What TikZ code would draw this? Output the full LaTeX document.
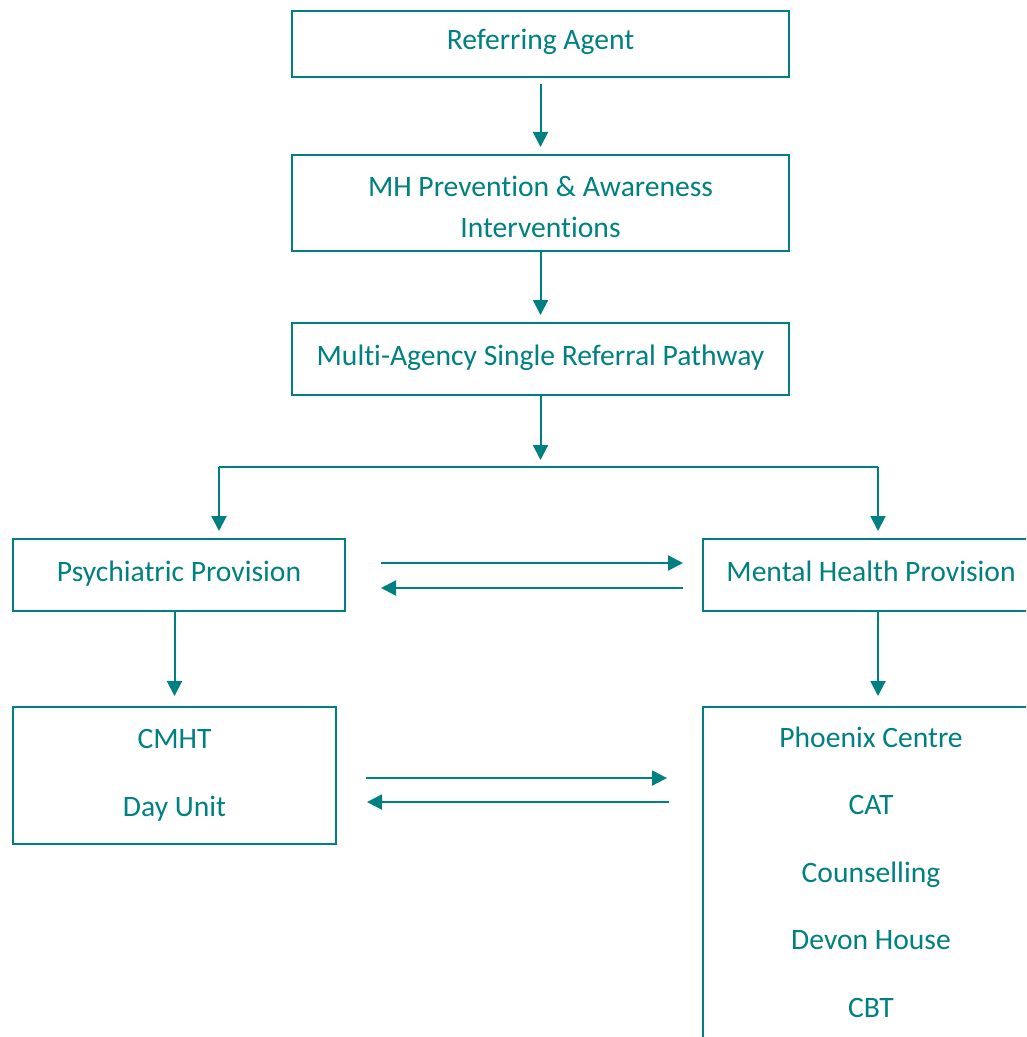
\documentclass[tikz,border=0pt]{standalone}
\usepackage{fontspec}
\setmainfont{Carlito}[Ligatures=CommonOff]
\usetikzlibrary{arrows.meta,calc,positioning}
\definecolor{pathteal}{RGB}{0,128,128}

\begin{document}
\begin{tikzpicture}[x=0.75pt,y=-0.75pt,
    box/.style={draw=pathteal, line width=1.5pt, text=pathteal, inner sep=0pt,
      font=\fontsize{22.2}{26}\selectfont, text height=15pt, text depth=6pt},
    listbox/.style={draw=pathteal, line width=1.5pt, text=pathteal, inner sep=0pt, align=center},
    link/.style={draw=pathteal, line width=1.5pt},
    arr/.style={link, -{Triangle[length=11.25pt,width=11.25pt]}}]
    \useasboundingbox (0,0) rectangle (1026,1037);
    \clip (0,0) rectangle (1026,1037);
    %boxes
    \node[box, minimum width=372.75pt, minimum height=49.5pt] (ref) at (540.5,44) {Referring Agent};
    \node[listbox, minimum width=372.75pt, minimum height=72pt, font=\fontsize{22.2}{30.75}\selectfont] (prev) at (540.5,203) {\rule{0pt}{21pt}MH Prevention \& Awareness\\Interventions};
    \node[box, minimum width=372.75pt, minimum height=54pt] (path) at (540.5,359) {Multi-Agency Single Referral Pathway};
    \node[box, minimum width=249pt, minimum height=54pt] (psych) at (179,575) {Psychiatric Provision};
    \node[box, minimum width=252pt, minimum height=54pt] (mhp) at (871,575) {Mental Health Provision};
    \node[listbox, minimum width=242.25pt, minimum height=102.75pt, font=\fontsize{22.2}{51}\selectfont] (cmht) at (174.5,775.5) {CMHT\\Day Unit};
    \node[listbox, minimum width=252pt, minimum height=253.5pt, font=\fontsize{22.2}{50.6}\selectfont] (serv) at (871,876) {Phoenix Centre\\CAT\\Counselling\\Devon House\\CBT\rule[-6pt]{0pt}{0pt}};
    %verticale pijlen
    \draw[arr, shorten <=4.5pt, shorten >=5.25pt] (ref) -- (prev);
    \draw[arr, shorten >=5.25pt] (prev) -- (path);
    \coordinate (split) at (540.5,467);
    \coordinate (splitl) at (219,467);
    \coordinate (splitr) at (878,467);
    \draw[arr, shorten >=5.25pt] (path) -- (split);
    \draw[link] (splitl) -- (splitr);
    \draw[arr, shorten >=5.25pt] (splitl) -- (splitl |- psych.north);
    \draw[arr, shorten >=5.25pt] (splitr) -- (splitr |- mhp.north);
    \draw[arr, shorten >=7.5pt] (psych.south -| cmht.north) -- (cmht.north);
    \draw[arr, shorten >=7.5pt] ([xshift=5.25pt]mhp.south) -- ([xshift=5.25pt]serv.north);
    %horizontale pijlen
    \draw[arr, shorten <=26.25pt, shorten >=14.25pt] ([yshift=9pt]psych.east) -- ([yshift=9pt]mhp.west);
    \draw[arr, shorten <=14.25pt, shorten >=26.25pt] ([yshift=-9.75pt]mhp.west) -- ([yshift=-9.75pt]psych.east);
    \draw[arr, shorten <=21.75pt, shorten >=26.25pt] ($(cmht.east)+(0,-1.9pt)$) -- ($(cmht.east -| serv.west)+(0,-1.9pt)$);
    \draw[arr, shorten <=24.75pt, shorten >=22.5pt] ($(cmht.east -| serv.west)+(0,-19.9pt)$) -- ($(cmht.east)+(0,-19.9pt)$);
\end{tikzpicture}
\end{document}
